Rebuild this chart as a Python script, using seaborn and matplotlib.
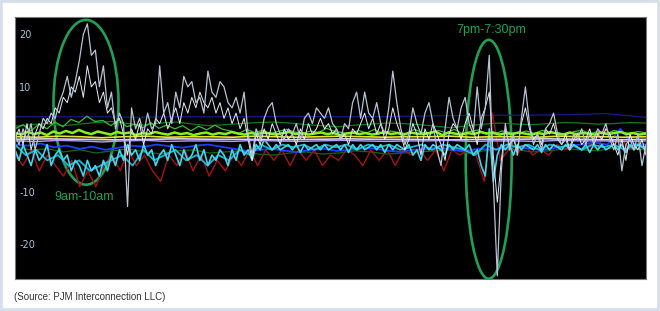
import numpy as np
import pandas as pd
import matplotlib
matplotlib.use("Agg")
import matplotlib.pyplot as plt
from matplotlib.patches import Ellipse, Rectangle
import seaborn as sns

# ---------------- data ----------------
x_span = 631  # time axis span (arbitrary units across the day)

lmp_main = [1, -1, 2, 0, 3, -2, 1, 4, 3, 5, 4, 7, 9, 12, 8, 11, 15, 20, 22, 16,
            17, 10, 14, 6, 9, 2, 5, 3, -12.8, 6, 2, 4, 1, 5, 2, 3, 14, 5, 7, 3,
            9, 6, 12, 10, 11, 7, 8, 5, 13, 9, 8, 11, 10, 7, 6, 8, 5, 9, 1, -3,
            2, 0, 4, 6, 7, 3, 1, 0, 2, 1, 3, 0, 4, 5, 3, 6, 5, 4, 6, 3,
            2, 0, 3, 2, 7, 9, 4, 9, 5, 4, 7, 3, 1, 6, 13, 7, 2, -1, 1, 6,
            3, 1, 5, 7, 3, -2, -5, 2, 8, 4, 2, 6, 8, 3, 1, 10, 2, 6, 16, -8,
            -26, -6, 3, -2, 1, -3, 4, 10, 3, -1, 1, -2, 2, 3, 5, 1, -1, 0, -2, 1,
            0, 2, -1, 1, 0, 2, 1, 3, 0, -2, 1, -6, -1, 0, -2, 1, -5, -1]

lmp_white = [0, 2, -1, 3, -2, 1, 3, 2, 4, 3, 6, 5, 8, 7, 10, 9, 12, 8, 14, 10, 11, 7, 9, 5, 6, 3, 4, 1,
             -3, 2, 0, 3, -1, 2, 1, 4, 3, 5, 2, 4, 6, 3, 7, 5, 8, 6, 9, 7, 6, 8, 5, 7, 4, 6, 3, 5, 2, 4,
             0, -4, 1, -1, 2, 0, 3, 1, -1, 2, 0, 1, -1, 2, 0, 3, 1, 2, 4, 2, 3, 1, 2, 0, 1, -1, 2, 1, 3, 5,
             2, 4, 1, 3, 0, 2, 6, 3, 1, -2, 0, 3, 1, -3, 2, 0, 3, 1, -1, -4, 1, 3, 2, 0, 3, 5, 2, -1, 4, 6,
             9, -3, -12, -4, 2, -1, 0, -2, 3, 6, 2, 0, 1, -1, 2, 1, 3, 0, -1, 1, -2, 0, 1, -1, 0, 2, -1, 1,
             0, 2, 1, -1, -3, 0, -4, 1, -1, -2, 0, -3]

lmp_cyan = [-2, -4, -1, -3, -5, -2, -4, -3, -1, -5, -3, -2, -4, -3, -6, -4, -5, -7, -4, -6, -5, -7, -4, -6,
            -3, -5, -2, -4,
            -1, -3, -2, -4, -1, -3, -2, -5, -3, -2, -4, -1, -3, -5, -2, -4, -3, -1, -4, -2, -5, -3, -4, -2,
            -3, -5, -2, -4, -1, -3,
            -2, -4, -1, -2, 0, -1, -2, -1, -2, -1.5, -1, -2, -1, -2.5, -1, -2, -1.5, -1, -2, -1, -2, -1.5,
            -1, -2, -1, -2.5, -1, -2, -1, -2,
            -1.5, -1, -2, -1, -2.5, -1, -2, -1, -1.5, -2, -1, -3, -2, -4, -1, -2, -1, -1.5, -2, -3, -1, -2,
            -1, -1.5, -2, -1, -3, -2, -5, -7,
            2, -8, -3, -1, -2, -1, -3, -1, -2, -1, -1.5, -2, -1, -2.5, -1, -2, -1, -1.5, -2, -1, -2, -1,
            -1.5, -2, -1, -2.5, -1, -2, -1, -2, -1.5, -1, -2, -1, -2.5, -1, -2, -1, -1.5, -2]

lmp_cyan2 = [-1, -3, -2, -4, -3, -5, -4, -6, -5, -4, -3, -5, -2, -4, -3, -2, -4, -3, -5, -3,
             -4, -2, -3, -1, -2, -1, -1.5, -1, -2, -1, -1.5, -1, -2, -1, -1.5, -1, -2, -1.5, -1, -2,
             -1, -1.5, -2, -3, -1, -2, -1, -1.5, -1, -2, -1, -1.5, -1, -2, -1, -1.5, -1, -2, -1, -1.5]

lmp_red = [-3, -5, -2, -6, -3, -5, -7, -4, -9, -6, -9, -5, -3, -6, -2, -5, -3, -6, -8, -3,
           -5, -2, -6, -3, -7, -4, -6, -3, -5, -2, -5, -2, -4, -2, -5, -2, -4, -2, -5, -3,
           -4, -2, -3, -5, -2, -4, -2, -5, -2, -3, -2, -4, -2, -6, -2, -3, -2, -3, -8, 5,
           -4, -2, -3, -1, -3, -2, -3, -1, -2, -1, -2, -1, -2, 2, -1, 0, -2, -1, -1]

lmp_blue = [-1.0, -1.2, -0.8, -1.5, -1.2, -1.8, -1.4, -2.0, -1.6, -1.2, -1.4, -1.0, -1.3, -1.6, -1.2,
            -1.0, -1.4, -1.8, -2.2, -2.0, -1.8, -2.2, -2.4, -2.0, -1.8, -2.2, -2.0, -1.6, -1.8, -2.2,
            -2.4, -2.0, -1.8, -1.6, -2.0, -2.2, -1.8, -2.0, -1.6, -1.4, -1.8, -2.0, -1.6, -1.2, -1.0,
            -0.6, -1.0, 2.0, -0.8, -1.0]

lmp_navy = [4.3, 4.3, 4.3, 4.2, 4.3, 4.3, 4.3, 4.4, 4.3, 4.3, 4.4, 4.5, 4.6, 4.6, 4.7, 4.9, 4.2]

lmp_dkgreen_hi = [2.5, 2.8, 3.0, 2.6, 2.9, 3.2, 3.4, 3.0, 2.7, 3.1, 3.3, 2.9, 2.6, 2.8, 3.0, 3.2,
                  3.3, 3.1, 2.8, 2.6, 2.4, 2.7, 2.9, 3.1, 3.0, 2.8, 2.5, 2.2, 2.6, 2.9, 3.1, 2.9,
                  2.8, 3.0, 3.2, 3.1, 2.9, 3.0, 3.2, 3.1]

lmp_dkgreen_lo = [-1.5, -2.0, -1.8, -2.4, -2.0, -2.6, -2.2, -1.8, -2.4, -2.8, -2.2, -2.0, -2.6, -2.4,
                  -2.2, -2.8, -3.0, -2.6, -2.4, -2.8, -2.6, -2.2, -2.4, -2.8, -2.6, -2.4, -2.2, -2.0,
                  -2.6, -2.2, -1.8, -2.0, -2.4, -2.2, -1.8, -2.0, -2.2, -1.6, -1.8, -2.0]

lmp_green = [2.0, 2.8, 1.6, 2.9, 2.0, 3.3, 2.4, 3.8, 3.2, 4.4, 3.4, 3.6, 2.6, 3.7, 2.4, 2.9, 2.2, 3.2,
             2.1, 2.7, 2.0, 2.6, 1.6, 2.5, 1.8, 2.7, 1.9, 1.6, 1.1, 1.9, 1.3, 1.7, 1.1, 1.5, 1.9, 1.4,
             1.1, 1.6, 1.3, 2.1, 1.5, 1.3, 1.0, 1.7, 1.2, 1.9, 1.1, 1.6, 1.3, 1.1, 1.9, 1.3, 1.0, 1.7,
             1.2, 1.9, 1.1, 1.5, 1.8, 1.1, 1.0, 1.6, 1.3, 1.1, 1.6, 1.1, 1.7, 1.2, 1.3, 0.9, 1.5, 1.7,
             1.1, 1.5, 1.0, 1.7, 1.3, 1.1, 1.5, 1.2]

lmp_lime = [1.2, 0.9, 1.4, 1.0, 1.3, 0.8, 1.5, 1.1, 1.6, 1.2, 1.8, 1.3, 1.0, 1.5, 1.2, 0.9, 1.4, 1.1,
            1.3, 0.8, 1.2, 1.0, 1.4, 1.1, 0.9, 1.3, 1.0, 1.2, 0.8, 1.1, 1.3, 0.9, 1.2, 1.0, 1.4, 1.1,
            0.9, 1.2, 1.0, 1.3, 1.1, 0.9, 1.2, 1.4, 1.0, 1.2, 0.9, 1.1, 1.3, 1.0, 1.2, 0.8, 1.1, 1.3,
            1.0, 1.2, 0.9, 1.1, 1.4, 1.0, 1.2, 0.9, 1.3, 1.1, 1.0, 1.2, 1.5, 0.8, 1.3, 1.1, 0.9, 1.2,
            1.0, 1.4, 1.1, 1.3, 0.9, 1.2, 1.0, 1.3, 1.1, 0.9, 1.2, 1.0, 1.4, 1.1, 0.9, 1.3, 1.0, 1.2,
            1.1, 0.9, 1.3, 1.0, 1.2, 1.4, 1.0, 1.2, 0.9, 1.1]

lmp_yellow = [0.5, 0.4, 0.6, 0.5, 0.3, 0.5, 0.6, 0.4, 0.5, 0.5, 0.4, 0.6, 0.5, 0.4, 0.5,
              0.6, 0.5, 0.4, 0.5, 0.5, 0.6, 0.4, 0.5, 0.5, 0.4, 0.6, 0.5, 0.5, 0.4, 0.5]

lmp_purple = [-0.3, -0.4, -0.2, -0.3, -0.5, -0.3, -0.2, -0.4, -0.3, -0.3, -0.4, -0.2, -0.3, -0.4, -0.3,
              -0.2, -0.3, -0.4, -0.3, -0.3, -0.2, -0.4, -0.3, -0.3, -0.4, -0.2, -0.3, -0.3, -0.4, -0.3]

lmp_grey = [0.0, 0.1, 0.0, -0.1, 0.0, 0.1, 0.0, 0.0, -0.1, 0.0, 0.1, 0.0, 0.0, -0.1, 0.0,
            0.0, 0.1, 0.0, -0.1, 0.0]

series = [
    ("navy", lmp_navy, "#141c86", 0.9),
    ("dkgreen_hi", lmp_dkgreen_hi, "#0e7a1e", 0.9),
    ("dkgreen_lo", lmp_dkgreen_lo, "#0b6a18", 0.9),
    ("red", lmp_red, "#a81010", 1.0),
    ("blue", lmp_blue, "#1f3cff", 1.3),
    ("cyan2", lmp_cyan2, "#1fb3cc", 1.3),
    ("cyan", lmp_cyan, "#3fd6ee", 1.2),
    ("green", lmp_green, "#2fc12f", 0.9),
    ("grey", lmp_grey, "#d8d8d8", 1.2),
    ("purple", lmp_purple, "#b79cff", 1.0),
    ("yellow", lmp_yellow, "#e6e62a", 1.2),
    ("lime", lmp_lime, "#86f21e", 1.8),
    ("white", lmp_white, "#e6edf4", 0.7),
    ("main", lmp_main, "#b4c4d4", 0.9),
]

yticks = [20, 10, -10, -20]
ytick_labels = ["20", "10", "-10", "-20"]

frames = []
for name, vals, _, _ in series:
    frames.append(pd.DataFrame({"t": np.linspace(0, x_span, len(vals)),
                                "lmp": vals, "series": name}))
df = pd.concat(frames, ignore_index=True)

# ---------------- figure ----------------
fig = plt.figure(figsize=(6.6, 3.11), dpi=100)
fig.patch.set_facecolor("white")
fig.patches.append(Rectangle((0, 0), 1, 1, transform=fig.transFigure,
                             facecolor="none", edgecolor="#d6deec", linewidth=4.0))

ax = fig.add_axes([15 / 660, 1 - 279 / 311, (646 - 15) / 660, (279 - 17) / 311])
ax.set_facecolor("black")

for name, vals, color, lw in series:
    sub = df[df["series"] == name]
    sns.lineplot(data=sub, x="t", y="lmp", color=color, linewidth=lw,
                 estimator=None, sort=False, ax=ax, legend=False)

ax.set_xlim(0, x_span)
ax.set_ylim(-26.6, 23.3)
ax.set_xlabel("")
ax.set_ylabel("")
ax.set_xticks([])
ax.set_yticks(yticks)
ax.set_yticklabels(ytick_labels)
ax.tick_params(axis="y", direction="in", length=0, pad=-3, labelsize=7,
               labelcolor="#a9bfd4")
for lab in ax.get_yticklabels():
    lab.set_horizontalalignment("left")
for sp in ax.spines.values():
    sp.set_color("#7a7a7a")
    sp.set_linewidth(0.8)

ring = "#1fa055"
ax.add_patch(Ellipse((71, 7.06), 65, 31.4, fill=False, edgecolor=ring, linewidth=1.9))
ax.add_patch(Ellipse((473.7, -3.8), 46, 45.5, fill=False, edgecolor=ring, linewidth=1.9,
                     clip_on=False))
ax.text(69, -11.0, "9am-10am", color=ring, fontsize=9, family="Liberation Sans",
        ha="center", va="center")
ax.text(476, 20.9, "7pm-7:30pm", color=ring, fontsize=9, family="Liberation Sans",
        ha="center", va="center")

fig.text(14 / 660, 1 - 297 / 311, "(Source: PJM Interconnection LLC)", color="#333333",
         fontsize=7, family="Liberation Sans", ha="left", va="center")

fig.savefig("out.png", dpi=100, facecolor=fig.get_facecolor())
